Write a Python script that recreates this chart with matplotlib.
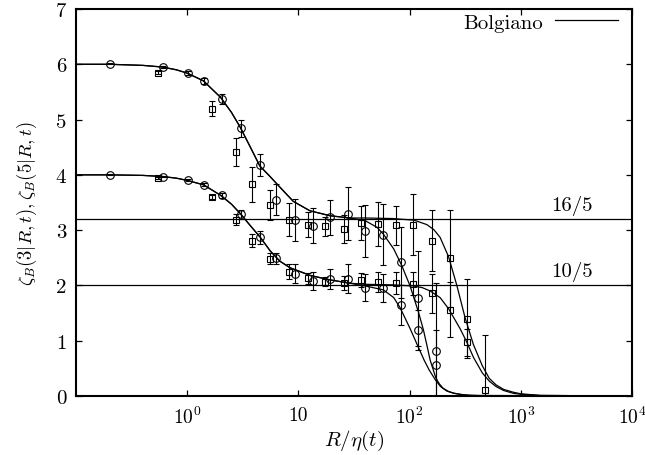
import matplotlib
matplotlib.use("Agg")
import matplotlib.pyplot as plt

plt.rcParams['font.family'] = 'serif'
plt.rcParams['font.serif'] = ['cmr10', 'DejaVu Serif']
plt.rcParams['mathtext.fontset'] = 'cm'
plt.rcParams['axes.formatter.use_mathtext'] = True

# zeta_B(5|R,t) data, circles and squares
r5_circ = [0.203, 0.61, 1.01, 1.42, 2.05, 3.06, 4.47, 6.3, 9.35, 13.4, 19.3, 27.9, 39.9, 57.5, 83.6, 120, 172]
z5_circ = [6.01, 5.95, 5.84, 5.70, 5.38, 4.84, 4.18, 3.55, 3.19, 3.08, 3.23, 3.30, 2.98, 2.92, 2.42, 1.77, 0.81]
e5_circ = [0.01, 0.02, 0.03, 0.05, 0.09, 0.15, 0.2, 0.28, 0.38, 0.32, 0.31, 0.48, 0.47, 0.55, 0.64, 0.86, 1.24]

r5_sq = [0.55, 1.67, 2.76, 3.86, 5.5, 8.3, 12.2, 17.2, 25.8, 36.6, 52.5, 75.7, 108, 158, 229, 327, 472]
z5_sq = [5.85, 5.20, 4.41, 3.83, 3.46, 3.19, 3.10, 3.07, 3.02, 3.13, 3.11, 3.09, 3.10, 2.81, 2.49, 1.40, 0.11]
e5_sq = [0.03, 0.14, 0.25, 0.32, 0.27, 0.30, 0.22, 0.17, 0.25, 0.31, 0.40, 0.35, 0.55, 0.55, 0.88, 0.71, 1.0]

# zeta_B(3|R,t) data
r3_circ = r5_circ
z3_circ = [4.00, 3.97, 3.90, 3.82, 3.63, 3.29, 2.87, 2.49, 2.21, 2.08, 2.12, 2.12, 1.96, 1.95, 1.65, 1.19, 0.56]
e3_circ = [0.01, 0.01, 0.02, 0.03, 0.05, 0.08, 0.12, 0.1, 0.17, 0.16, 0.18, 0.26, 0.25, 0.25, 0.36, 0.36, 0.63]

r3_sq = [0.55, 1.67, 2.76, 3.86, 5.5, 8.3, 12.2, 17.2, 25.8, 36.6, 52.5, 75.7, 108, 158, 229, 327]
z3_sq = [3.94, 3.60, 3.19, 2.81, 2.48, 2.25, 2.13, 2.07, 2.04, 2.10, 2.07, 2.05, 2.03, 1.86, 1.56, 0.97]
e3_sq = [0.02, 0.04, 0.1, 0.12, 0.1, 0.13, 0.1, 0.08, 0.13, 0.13, 0.18, 0.2, 0.21, 0.35, 0.5, 0.25]

# Bolgiano curves
head5_x = [0.1, 0.2, 0.4, 0.6, 0.8, 1.0, 1.4, 2.0, 2.5, 3.0, 3.7, 4.5, 5.5, 6.8, 9.0, 12.7, 19.3, 29]
head5_y = [6.0, 6.0, 5.98, 5.95, 5.9, 5.84, 5.70, 5.40, 5.13, 4.86, 4.50, 4.16, 3.98, 3.78, 3.52, 3.35, 3.26, 3.22]
tail5a_x = [40, 51, 58, 72, 85, 101, 120, 133, 143, 153, 172, 185, 200, 225, 250, 300, 350, 1e4]
tail5a_y = [3.17, 3.05, 2.93, 2.66, 2.36, 1.99, 1.52, 1.2, 0.92, 0.65, 0.33, 0.22, 0.14, 0.08, 0.05, 0.025, 0.01, 0.0]
tail5b_x = [40, 70, 110, 143, 165, 188, 224, 266, 315, 375, 450, 520, 600, 700, 850, 1000, 1500, 1e4]
tail5b_y = [3.22, 3.21, 3.18, 3.1, 3.01, 2.87, 2.52, 2.0, 1.42, 0.93, 0.55, 0.32, 0.2, 0.12, 0.07, 0.04, 0.01, 0.0]

head3_x = [0.1, 0.2, 0.4, 0.6, 0.8, 1.0, 1.4, 2.0, 2.5, 3.0, 3.7, 4.5, 5.6, 6.8, 8.4, 12.8, 19.3, 29]
head3_y = [4.0, 4.0, 3.99, 3.97, 3.94, 3.90, 3.82, 3.63, 3.47, 3.30, 3.08, 2.88, 2.62, 2.44, 2.32, 2.18, 2.10, 2.04]
tail3a_x = [40, 58, 72, 82, 101, 120, 135, 150, 172, 190, 216, 250, 300, 450, 1e4]
tail3a_y = [1.99, 1.92, 1.78, 1.6, 1.22, 0.88, 0.65, 0.47, 0.28, 0.17, 0.09, 0.05, 0.02, 0.005, 0.0]
tail3b_x = [40, 70, 108, 130, 153, 188, 224, 284, 326, 375, 450, 520, 600, 700, 850, 1000, 1500, 1e4]
tail3b_y = [2.02, 2.01, 1.99, 1.96, 1.9, 1.78, 1.58, 1.22, 0.98, 0.7, 0.42, 0.27, 0.17, 0.1, 0.05, 0.03, 0.01, 0.0]

levels = [16 / 5, 10 / 5]
level_labels = ['16/5', '10/5']

fig = plt.figure(figsize=(6.45, 4.56), dpi=100)
ax = fig.add_axes([76 / 645, 1 - 397 / 456, (632 - 76) / 645, (397 - 10) / 456])

lw = 0.9
curve = None
for hx, hy, tx, ty in [(head5_x, head5_y, tail5a_x, tail5a_y),
                       (head5_x, head5_y, tail5b_x, tail5b_y),
                       (head3_x, head3_y, tail3a_x, tail3a_y),
                       (head3_x, head3_y, tail3b_x, tail3b_y)]:
    ln, = ax.plot(hx + tx, hy + ty, color='black', lw=lw)
    if curve is None:
        curve = ln

for lev in levels:
    ax.axhline(lev, color='black', lw=lw)

ekw = dict(fmt='none', ecolor='black', elinewidth=0.8, capsize=2.5, capthick=0.8)
ax.errorbar(r5_circ, z5_circ, yerr=e5_circ, **ekw)
ax.errorbar(r3_circ, z3_circ, yerr=e3_circ, **ekw)
ax.errorbar(r5_sq, z5_sq, yerr=e5_sq, **ekw)
ax.errorbar(r3_sq, z3_sq, yerr=e3_sq, **ekw)

mkw = dict(linestyle='none', mfc='none', mec='black', mew=0.8)
ax.plot(r5_circ, z5_circ, marker='o', ms=5.5, **mkw)
ax.plot(r3_circ, z3_circ, marker='o', ms=5.5, **mkw)
ax.plot(r5_sq, z5_sq, marker='s', ms=5, **mkw)
ax.plot(r3_sq, z3_sq, marker='s', ms=5, **mkw)

for lev, lab in zip(levels, level_labels):
    ax.text(4450, lev + 0.08, lab, ha='right', va='bottom', fontsize=15)

ax.set_xscale('log')
ax.set_xlim(0.1, 1e4)
ax.set_ylim(0, 7)
ax.set_xticks([1, 10, 100, 1000, 10000])
ax.set_xticklabels([r'$10^0$', '10', r'$10^2$', r'$10^3$', r'$10^4$'])
ax.minorticks_off()
ax.set_yticks(range(8))
ax.set_yticklabels([str(i) for i in range(8)])
ax.tick_params(direction='in', length=4.5, width=0.9, top=True, right=True,
               labelsize=15, pad=7)
ax.tick_params(axis='x', labelsize=14)
for sp in ax.spines.values():
    sp.set_linewidth(1.5)

ax.set_xlabel(r'$R/\eta(t)$', fontsize=15, labelpad=1)
ax.set_ylabel(r'$\zeta_B(3|R,t),\zeta_B(5|R,t)$', fontsize=13.5, labelpad=12)

ax.legend([curve], ['Bolgiano'], loc='upper right', bbox_to_anchor=(0.982, 1.0),
          frameon=False, markerfirst=False, handlelength=3.0, fontsize=15,
          borderaxespad=0.1, borderpad=0.1, handletextpad=0.6)

fig.savefig('out.png', dpi=100)
